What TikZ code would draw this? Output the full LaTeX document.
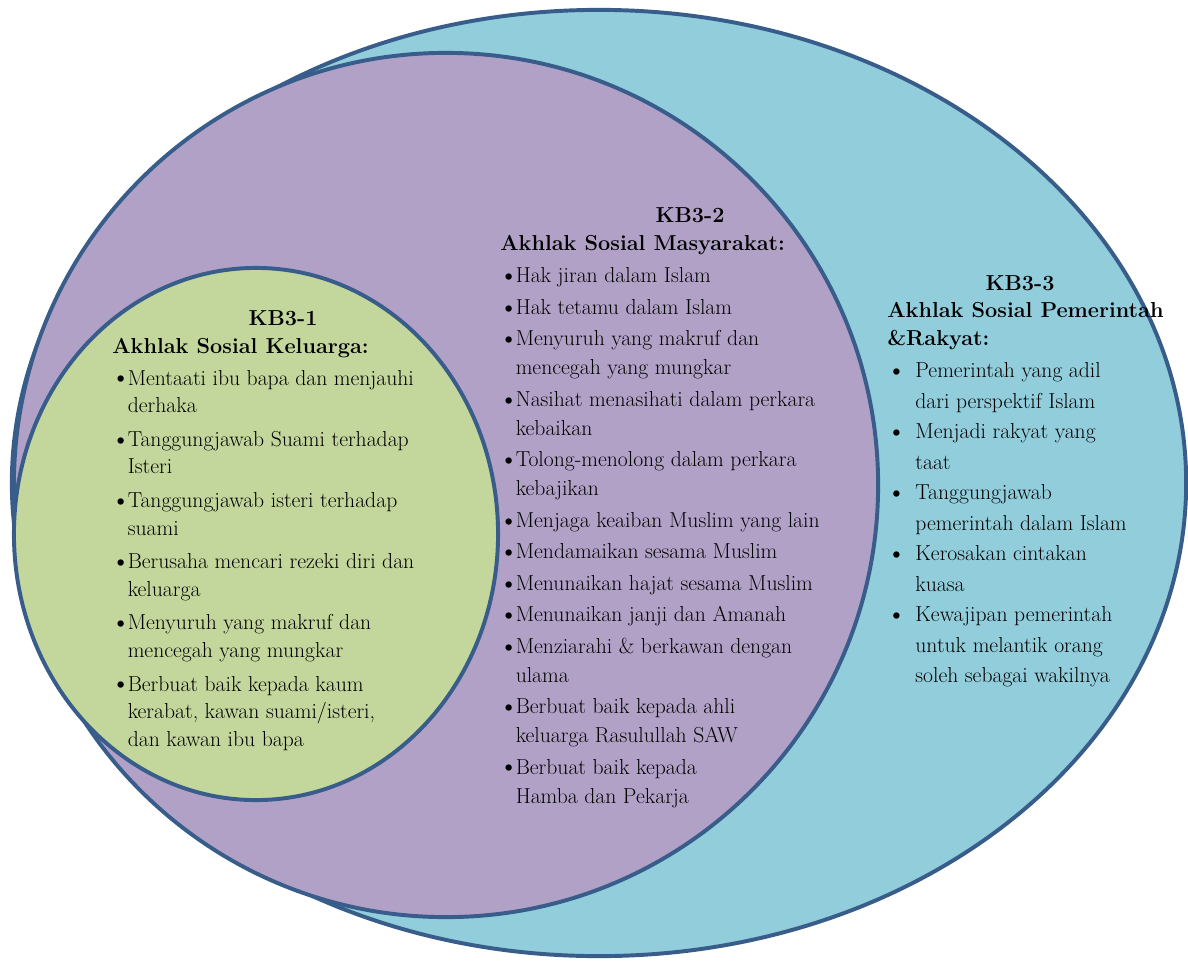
\documentclass[tikz,border=0pt]{standalone}
\usepackage{tikz}
\usepackage{graphicx}
\usetikzlibrary{shapes.geometric}

\definecolor{rimblue}{HTML}{385D8A}
\definecolor{outerfill}{HTML}{92CDDC}
\definecolor{midfill}{HTML}{B2A1C7}
\definecolor{innerfill}{HTML}{C3D69B}

% bullet and hanging indent for the lists
\newcommand{\kbmark}{\raisebox{-1.2pt}{\scalebox{1.3}{\textbullet}}}
\newcommand{\kbdot}{\makebox[11pt][l]{\hspace*{-1.2pt}\kbmark}}
\newcommand{\kbgap}{\hspace*{11pt}}
\newcommand{\kbwdot}{\makebox[20pt][l]{\hspace*{-0.6pt}\kbmark}}
\newcommand{\kbwgap}{\hspace*{20pt}}

\tikzset{
  ring/.style={ellipse, draw=rimblue, line width=2.8pt, inner sep=0pt},
  kbtitle/.style={font=\fontsize{15.4}{19}\selectfont\bfseries, inner sep=0pt},
  kblist/.style={align=left, anchor=north west, inner sep=0pt}
}

\begin{document}
\begin{tikzpicture}[x=0.025cm, y=-0.025cm]
\useasboundingbox (0,0) rectangle (1188,960);

\node[ring, fill=outerfill, minimum width=29.35cm, minimum height=23.65cm] (rakyat) at (599,483) {};
\node[ring, fill=midfill, minimum width=21.6cm, minimum height=21.6cm] (masyarakat) at (446,485) {};
\node[ring, fill=innerfill, minimum width=12.1cm, minimum height=13.3cm] (keluarga) at (256,534) {};

\node[kbtitle] (kb1) at (283,318) {KB3-1};
\node[kblist, font=\fontsize{15.4}{19.6}\selectfont] (kb1list) at (112,338) {%
\textbf{Akhlak Sosial Keluarga:}\\[3pt]
\kbdot Mentaati ibu bapa dan menjauhi\\
\kbgap derhaka\\[4.3pt]
\kbdot Tanggungjawab Suami terhadap\\
\kbgap Isteri\\[4.3pt]
\kbdot Tanggungjawab isteri terhadap\\
\kbgap suami\\[4.3pt]
\kbdot Berusaha mencari rezeki diri dan\\
\kbgap keluarga\\[4.3pt]
\kbdot Menyuruh yang makruf dan\\
\kbgap mencegah yang mungkar\\[4.3pt]
\kbdot Berbuat baik kepada kaum\\
\kbgap kerabat, kawan suami/isteri,\\
\kbgap dan kawan ibu bapa};

\node[kbtitle] (kb2) at (690,215) {KB3-2};
\node[kblist, font=\fontsize{15.4}{20.6}\selectfont] (kb2list) at (500,235) {%
\textbf{Akhlak Sosial Masyarakat:}\\[2.5pt]
\kbdot Hak jiran dalam Islam\\[1.8pt]
\kbdot Hak tetamu dalam Islam\\[1.8pt]
\kbdot Menyuruh yang makruf dan\\
\kbgap mencegah yang mungkar\\[1.8pt]
\kbdot Nasihat menasihati dalam perkara\\
\kbgap kebaikan\\[1.8pt]
\kbdot Tolong-menolong dalam perkara\\
\kbgap kebajikan\\[1.8pt]
\kbdot Menjaga keaiban Muslim yang lain\\[1.8pt]
\kbdot Mendamaikan sesama Muslim\\[1.8pt]
\kbdot Menunaikan hajat sesama Muslim\\[1.8pt]
\kbdot Menunaikan janji dan Amanah\\[1.8pt]
\kbdot Menziarahi \& berkawan dengan\\
\kbgap ulama\\[1.8pt]
\kbdot Berbuat baik kepada ahli\\
\kbgap keluarga Rasulullah SAW\\[1.8pt]
\kbdot Berbuat baik kepada\\
\kbgap Hamba dan Pekarja};

\node[kbtitle] (kb3) at (1020,283) {KB3-3};
\node[kblist, font=\fontsize{15.4}{21.7}\selectfont] (kb3list) at (887,302) {%
\textbf{Akhlak Sosial Pemerintah}\\[-1.5pt]
\textbf{\&Rakyat:}\\[1pt]
\kbwdot Pemerintah yang adil\\
\kbwgap dari perspektif Islam\\
\kbwdot Menjadi rakyat yang\\
\kbwgap taat\\
\kbwdot Tanggungjawab\\
\kbwgap pemerintah dalam Islam\\
\kbwdot Kerosakan cintakan\\
\kbwgap kuasa\\
\kbwdot Kewajipan pemerintah\\
\kbwgap untuk melantik orang\\
\kbwgap soleh sebagai wakilnya};
\end{tikzpicture}
\end{document}
